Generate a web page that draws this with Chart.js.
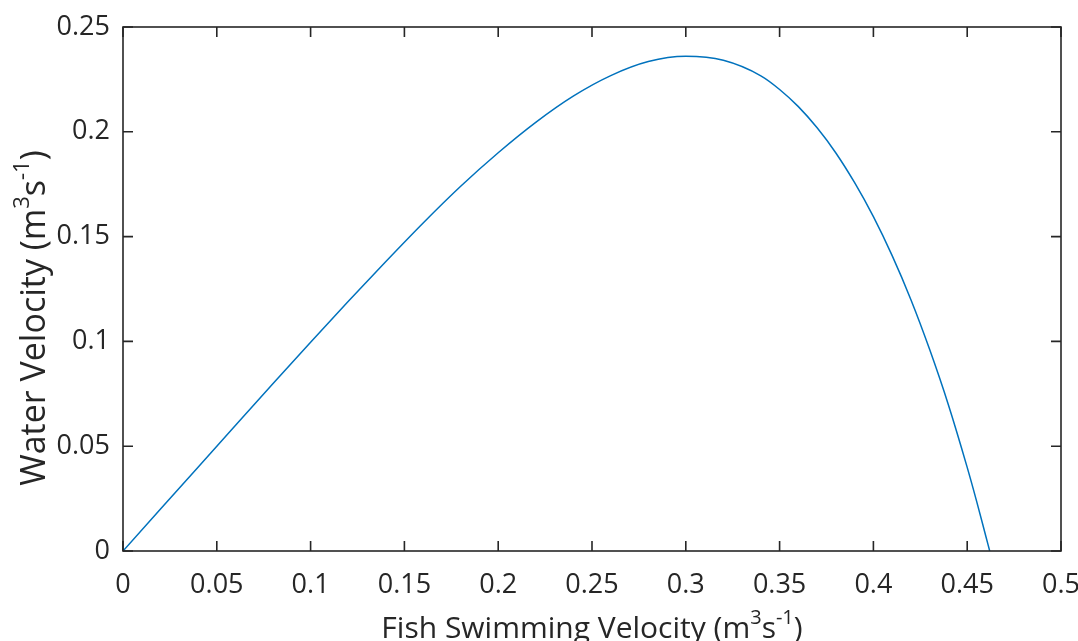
<!DOCTYPE html>
<html>
<head>
<meta charset="utf-8">
<script src="https://cdn.jsdelivr.net/npm/chart.js@4/dist/chart.umd.min.js"></script>
<style>
  html, body { margin: 0; padding: 0; background: #fff; }
  #wrap { width: 1078px; height: 641px; position: relative; }
</style>
</head>
<body>
<div id="wrap"><canvas id="velChart"></canvas></div>
<script>
// Values
const fishVelocity = [0, 0.02, 0.04, 0.06, 0.08, 0.10, 0.12, 0.14, 0.16, 0.18, 0.20, 0.22, 0.24,
  0.26, 0.28, 0.30, 0.32, 0.34, 0.35, 0.36, 0.37, 0.38, 0.39, 0.40, 0.41, 0.42, 0.43, 0.44, 0.45,
  0.455, 0.46, 0.462];
const waterVelocity = [0, 0.02, 0.04, 0.06, 0.0799, 0.0996, 0.119, 0.138, 0.1565, 0.174, 0.190, 0.2045,
  0.2170, 0.2268, 0.2335, 0.2360, 0.2341, 0.2267, 0.2202, 0.2120, 0.2019, 0.1899, 0.1757, 0.1595,
  0.1409, 0.1199, 0.0961, 0.0697, 0.0399, 0.0238, 0.0068, 0];

const xTicks = [0, 0.05, 0.1, 0.15, 0.2, 0.25, 0.3, 0.35, 0.4, 0.45, 0.5];
const yTicks = [0, 0.05, 0.1, 0.15, 0.2, 0.25];

// axis titles with superscript pieces
const xTitle = [["Fish Swimming Velocity (m"], ["3", true], ["s"], ["-1", true], [")"]];
const yTitle = [["Water Velocity (m"], ["3", true], ["s"], ["-1", true], [")"]];

const FONT = "'Open Sans', sans-serif";
const AXIS_COLOR = "#262626";

function fmt(v) {
  return String(Math.round(v * 1000) / 1000);
}

// draw a title made of normal + superscript pieces, centred on (cx, cy)
function drawRichText(ctx, parts, cx, cy, rotate, size) {
  const supSize = Math.round(size * 0.66);
  ctx.save();
  ctx.fillStyle = AXIS_COLOR;
  ctx.textBaseline = "alphabetic";
  ctx.textAlign = "left";
  let total = 0;
  parts.forEach(p => {
    ctx.font = (p[1] ? supSize : size) + "px " + FONT;
    total += ctx.measureText(p[0]).width;
  });
  ctx.translate(cx, cy);
  if (rotate) ctx.rotate(-Math.PI / 2);
  let x = -total / 2;
  parts.forEach(p => {
    ctx.font = (p[1] ? supSize : size) + "px " + FONT;
    ctx.fillText(p[0], x, p[1] ? -size * 0.48 : 0);
    x += ctx.measureText(p[0]).width;
  });
  ctx.restore();
}

// MATLAB-like box with inward ticks
const boxPlugin = {
  id: "boxPlugin",
  afterDraw(chart) {
    const { ctx, chartArea: a, scales } = chart;
    const len = 10;
    ctx.save();
    ctx.strokeStyle = AXIS_COLOR;
    ctx.lineWidth = 1.6;
    ctx.beginPath();
    xTicks.forEach(v => {
      const px = scales.x.getPixelForValue(v);
      ctx.moveTo(px, a.bottom); ctx.lineTo(px, a.bottom - len);
      ctx.moveTo(px, a.top); ctx.lineTo(px, a.top + len);
    });
    yTicks.forEach(v => {
      const py = scales.y.getPixelForValue(v);
      ctx.moveTo(a.left, py); ctx.lineTo(a.left + len, py);
      ctx.moveTo(a.right, py); ctx.lineTo(a.right - len, py);
    });
    ctx.stroke();
    ctx.strokeRect(a.left, a.top, a.right - a.left, a.bottom - a.top);
    ctx.restore();

    drawRichText(ctx, xTitle, (a.left + a.right) / 2, 638, false, 30);
    drawRichText(ctx, yTitle, 45, 318, true, 34);
  }
};

const ctx = document.getElementById("velChart").getContext("2d");

new Chart(ctx, {
  type: "scatter",
  data: {
    datasets: [{
      data: fishVelocity.map((x, i) => ({ x: x, y: waterVelocity[i] })),
      showLine: true,
      borderColor: "#0072BD",
      borderWidth: 1.5,
      pointRadius: 0,
      cubicInterpolationMode: "monotone",
      fill: false
    }]
  },
  options: {
    responsive: true,
    maintainAspectRatio: false,
    animation: false,
    events: [],
    layout: { padding: { top: 27, right: 17, left: 0, bottom: 0 } },
    plugins: { legend: { display: false }, tooltip: { enabled: false } },
    scales: {
      x: {
        type: "linear",
        min: 0, max: 0.5,
        afterFit(scale) {
          scale.height = 90;
          scale.paddingLeft = 0;
          scale.paddingRight = 0;
        },
        afterBuildTicks(scale) { scale.ticks = xTicks.map(v => ({ value: v })); },
        grid: { display: false, drawTicks: false },
        border: { display: false },
        ticks: {
          padding: 18,
          color: AXIS_COLOR,
          font: { family: FONT, size: 27 },
          maxRotation: 0,
          autoSkip: false,
          callback: v => fmt(v)
        }
      },
      y: {
        type: "linear",
        min: 0, max: 0.25,
        afterFit(scale) {
          scale.width = 123;
          scale.paddingTop = 0;
          scale.paddingBottom = 0;
        },
        afterBuildTicks(scale) { scale.ticks = yTicks.map(v => ({ value: v })); },
        grid: { display: false, drawTicks: false },
        border: { display: false },
        ticks: {
          padding: 13,
          color: AXIS_COLOR,
          font: { family: FONT, size: 27 },
          autoSkip: false,
          callback: v => fmt(v)
        }
      }
    }
  },
  plugins: [boxPlugin]
});
</script>
</body>
</html>
